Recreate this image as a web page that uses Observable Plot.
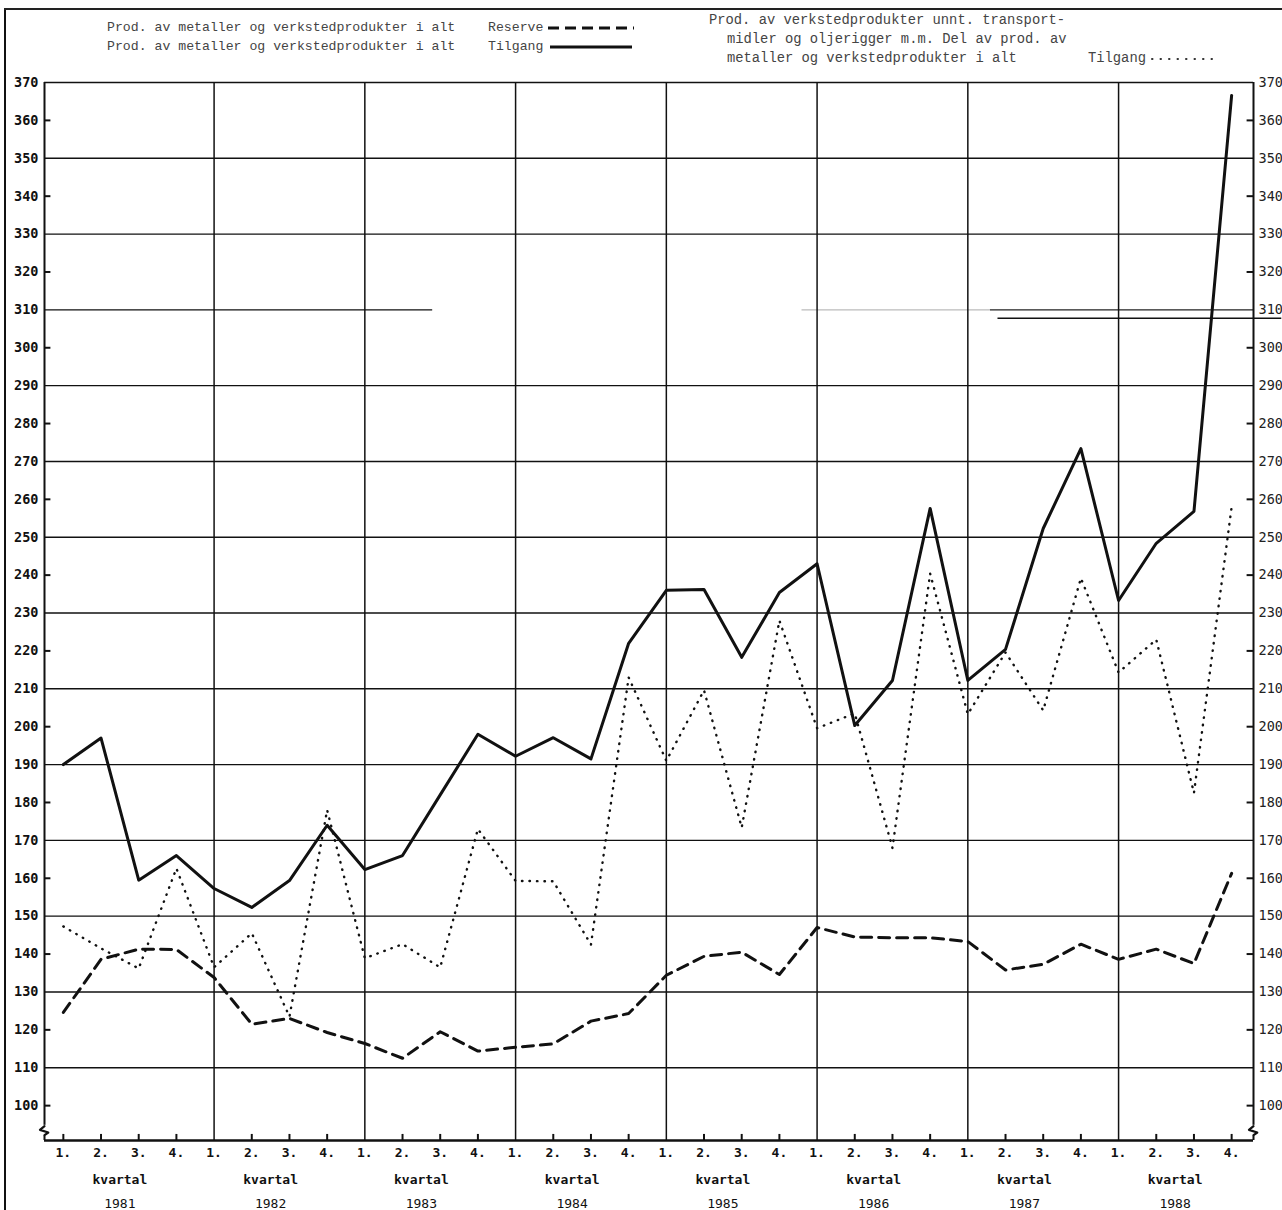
<!DOCTYPE html>
<html><head><meta charset="utf-8">
<script src="https://cdn.jsdelivr.net/npm/d3@7"></script>
<script src="https://cdn.jsdelivr.net/npm/@observablehq/plot@0.6"></script>
<style>
html,body{margin:0;padding:0;background:#fff;}
#wrap{position:relative;width:1282px;height:1210px;overflow:hidden;background:#fff;}
.lg{position:absolute;font-family:"Liberation Mono",monospace;color:#444;white-space:pre;line-height:1;z-index:3;}
.l1{font-size:13.2px;}
.l2{font-size:13.8px;}
#frameL{position:absolute;left:4px;top:8px;width:2px;height:1202px;background:#111;z-index:5;}
#frameT{position:absolute;left:4px;top:8px;width:1278px;height:2px;background:#222;z-index:5;}
#chart{position:absolute;left:0;top:60px;z-index:1;}
.smp{position:absolute;z-index:3;}
</style></head>
<body>
<div id="wrap">
  <div id="chart"></div>
  <div id="frameL"></div><div id="frameT"></div>
  <div class="lg l1" style="left:107px;top:21px">Prod. av metaller og verkstedprodukter i alt</div>
  <div class="lg l1" style="left:488px;top:21px">Reserve</div>
  <svg class="smp" style="left:548px;top:22px" width="90" height="12"><line x1="0" y1="6" x2="86" y2="6" stroke="#111" stroke-width="3" stroke-dasharray="11,6"/></svg>
  <div class="lg l1" style="left:107px;top:40px">Prod. av metaller og verkstedprodukter i alt</div>
  <div class="lg l1" style="left:488px;top:40px">Tilgang</div>
  <svg class="smp" style="left:550px;top:41px" width="90" height="12"><line x1="0" y1="6" x2="82" y2="6" stroke="#111" stroke-width="3"/></svg>
  <div class="lg l2" style="left:709px;top:14px">Prod. av verkstedprodukter unnt. transport-</div>
  <div class="lg l2" style="left:727px;top:33px">midler og oljerigger m.m. Del av prod. av</div>
  <div class="lg l2" style="left:727px;top:52px">metaller og verkstedprodukter i alt</div>
  <div class="lg l2" style="left:1088px;top:52px">Tilgang</div>
  <svg class="smp" style="left:1150px;top:53px" width="70" height="12"><line x1="2" y1="6" x2="62" y2="6" stroke="#333" stroke-width="2" stroke-linecap="round" stroke-dasharray="0.5,8"/></svg>
</div>
<script>
const years = ["1981","1982","1983","1984","1985","1986","1987","1988"];
const quarterLabels = ["1.","2.","3.","4."];
const tilgang = [190,197,159.5,166, 157.3,152.3,159.4,174, 162.3,166,182,198, 192.2,197.1,191.5,222,
                 236,236.2,218.3,235.4, 243,200.3,212.2,257.6, 212.2,220.4,252.3,273.4, 233.3,248.4,256.8,366.6];
const verksted = [147.3,141.5,136.2,162.6, 136.5,145.5,123.5,178, 138.9,142.6,136.5,173, 159.3,159.2,142.5,213,
                  191,209.6,173.4,228, 199.6,203.5,168,240.4, 203.3,219.6,204.3,239.2, 214.3,223,182.5,258];
const reserve = [124.6,138.6,141.3,141.2, 133.8,121.5,123,119.3, 116.4,112.5,119.5,114.4, 115.4,116.3,122.3,124.3,
                 134.4,139.4,140.5,134.6, 147,144.5,144.3,144.3, 143.3,135.8,137.3,142.6, 138.6,141.3,137.5,161.3];
const yTicks = [100,110,120,130,140,150,160,170,180,190,200,210,220,230,240,250,260,270,280,290,300,310,320,330,340,350,360,370];
const gridValues = [110,130,150,170,190,210,230,250,270,290,330,350,370];

const yMin = 90.8, yMax = 370, xMin = -0.5, xMax = 31.58;
const n = tilgang.length;
const idx = d3.range(n);
const rows = k => idx.map(i => ({i, v: k[i]}));
const yearStarts = idx.filter(i => i % 4 === 0 && i > 0);
const minorTicks = yTicks.filter(v => !gridValues.includes(v) && v !== 310);
const qTicks = idx.filter(i => i % 4 !== 0 || i === 0);
const zig = (x0) => [
  {x: x0, y: 94.6}, {x: x0 - 0.12, y: 93.6}, {x: x0 + 0.1, y: 92.9}, {x: x0, y: 92.2}
];

const chart = Plot.plot({
  width: 1282, height: 1150,
  marginLeft: 44, marginRight: 29, marginTop: 22, marginBottom: 70,
  x: {domain: [xMin, xMax], axis: null},
  y: {domain: [yMin, yMax], axis: null},
  style: {fontFamily: "DejaVu Sans Mono", background: "white", color: "#111", overflow: "visible"},
  marks: [
    Plot.ruleY(gridValues, {x1: xMin, x2: xMax, stroke: "#111", strokeWidth: 1.4}),
    // the 310 line is only partly printed in the original
    Plot.ruleY([310], {x1: xMin, x2: 9.8, stroke: "#111", strokeWidth: 1.4}),
    Plot.ruleY([310], {x1: 19.6, x2: 24.6, stroke: "#bbb", strokeWidth: 1.2}),
    Plot.ruleY([310], {x1: 24.6, x2: xMax, stroke: "#222", strokeWidth: 1.2}),
    Plot.ruleY([307.8], {x1: 24.8, x2: xMax + 0.75, stroke: "#111", strokeWidth: 1.6}),
    Plot.ruleX(yearStarts, {y1: yMin, y2: yMax, stroke: "#111", strokeWidth: 1.5}),
    Plot.ruleX([xMin, xMax], {y1: yMin, y2: yMax, stroke: "#111", strokeWidth: 2}),
    Plot.ruleX([xMin, xMax], {y1: 92.0, y2: 94.8, stroke: "white", strokeWidth: 4}),
    Plot.line(zig(xMin), {x: "x", y: "y", stroke: "#111", strokeWidth: 2.2}),
    Plot.line(zig(xMax), {x: "x", y: "y", stroke: "#111", strokeWidth: 2.2}),
    Plot.ruleY([yMin], {x1: xMin, x2: xMax, stroke: "#111", strokeWidth: 2.5}),
    Plot.ruleY(minorTicks, {x1: xMin, x2: xMin + 0.17, stroke: "#111", strokeWidth: 2}),
    Plot.ruleY(minorTicks, {x1: xMax - 0.17, x2: xMax, stroke: "#111", strokeWidth: 2}),
    Plot.ruleX(qTicks, {y1: yMin, y2: yMin + 1.6, stroke: "#111", strokeWidth: 2}),
    Plot.line(rows(verksted), {x: "i", y: "v", stroke: "#111", strokeWidth: 2.4,
      strokeDasharray: "0.5,7", strokeLinecap: "round"}),
    Plot.line(rows(reserve), {x: "i", y: "v", stroke: "#111", strokeWidth: 3,
      strokeDasharray: "11,7"}),
    Plot.line(rows(tilgang), {x: "i", y: "v", stroke: "#111", strokeWidth: 3}),
    Plot.axisY(yTicks, {anchor: "left", tickSize: 0, tickPadding: 6, fontSize: 13.5, fontWeight: "bold"}),
    Plot.axisY(yTicks, {anchor: "right", tickSize: 0, tickPadding: 5, fontSize: 13.5, fill: "#222"}),
    Plot.axisX(idx, {anchor: "bottom", tickSize: 0, tickPadding: 7, fontSize: 13, fontWeight: "bold",
      tickFormat: i => quarterLabels[i % 4]}),
    Plot.text(years, {x: (d, i) => i * 4 + 1.5, y: () => yMin, dy: 39, text: () => "kvartal",
      fontSize: 13, fontWeight: "bold"}),
    Plot.text(years, {x: (d, i) => i * 4 + 1.5, y: () => yMin, dy: 63, text: d => d, fontSize: 13})
  ]
});
document.getElementById("chart").appendChild(chart);
</script>
</body></html>
